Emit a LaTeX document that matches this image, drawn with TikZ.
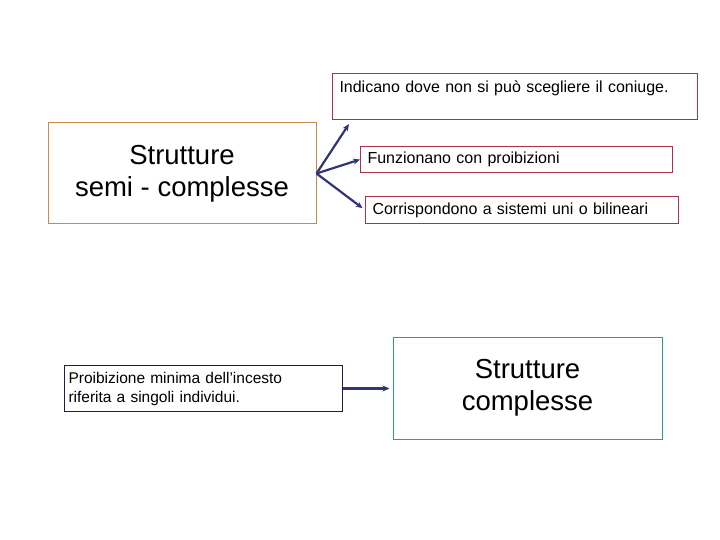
\documentclass[tikz,border=0pt]{standalone}
\usepackage{fontspec}
\setmainfont{Liberation Sans}
\usetikzlibrary{arrows.meta}

\definecolor{boxred}{HTML}{B0304C}
\definecolor{boxorange}{HTML}{C98A4E}
\definecolor{boxteal}{HTML}{2A9D9A}
\definecolor{boxnavy}{HTML}{1E1E48}
\definecolor{arrownavy}{HTML}{33337A}

\begin{document}
\begin{tikzpicture}[
    x=1pt, y=-1pt,
    >={Stealth[length=7pt,width=6pt]},
    note/.style={rectangle, draw=boxred, line width=1pt, anchor=north west, align=left,
        inner xsep=6pt, font=\fontsize{16}{18.4}\selectfont},
    bigbox/.style={rectangle, line width=1pt, align=center,
        font=\fontsize{27.5}{32}\selectfont},
    small/.style={rectangle, draw=boxnavy, line width=1pt, anchor=north west, align=left,
        inner xsep=4pt, font=\fontsize{15.5}{19}\selectfont},
    line/.style={->, line width=2.2pt, draw=arrownavy}
]
\useasboundingbox (0,0) rectangle (720,540);

% strutture semi - complesse
\node[bigbox, draw=boxorange, minimum width=268pt, minimum height=101pt] (semi) at (182,173.5)
    {Strutture\\semi - complesse};

% le tre caratteristiche
\node[note, minimum width=365pt, minimum height=46pt, text width=351pt, inner ysep=5pt] (indic) at (332,73)
    {Indicano dove non si può scegliere il coniuge.\\[2pt]~};
\node[note, minimum width=312pt, minimum height=26pt, text width=298pt] (funz) at (360,146)
    {Funzionano con proibizioni};
\node[note, minimum width=313pt, minimum height=27pt, text width=299pt] (corr) at (365,196)
    {Corrispondono a sistemi uni o bilineari};

\coordinate (tip1) at (349,124);

% strutture complesse
\node[small, minimum width=278pt, minimum height=46pt, text width=270pt] (proib) at (64,365)
    {Proibizione minima dell'incesto\\riferita a singoli individui.};
\node[bigbox, draw=boxteal, minimum width=269pt, minimum height=102pt] (compl) at (527.5,388)
    {Strutture\\complesse};

% frecce
\draw[line] (semi.east) -- (tip1);
\draw[line] (semi.east) -- (funz.west);
\draw[line, shorten >=3pt] (semi.east) -- (corr.west);
\draw[line, shorten >=3pt] (proib.east) -- (proib.east -| compl.west);

\end{tikzpicture}
\end{document}
